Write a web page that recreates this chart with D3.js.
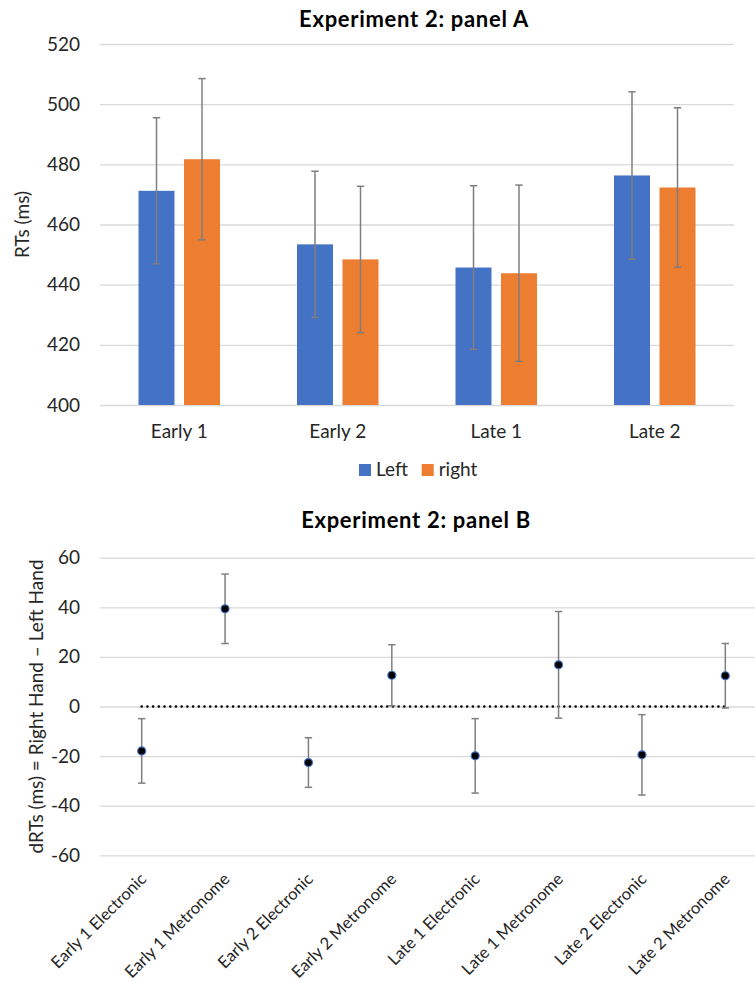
<!DOCTYPE html>
<html>
<head>
<meta charset="utf-8">
<script src="https://cdn.jsdelivr.net/npm/d3@7"></script>
<style>
  html, body { margin: 0; padding: 0; background: #fff; }
  svg { display: block; font-family: Lato, "Open Sans", sans-serif; }
</style>
</head>
<body>
<svg id="chart" width="755" height="984"></svg>
<script>
// ---------- Panel A data ----------
const categoriesA = ["Early 1", "Early 2", "Late 1", "Late 2"];
const seriesNamesA = ["Left", "right"];
const leftMeans  = [471.2, 453.4, 445.7, 476.3];
const leftErr    = [24.3, 24.3, 27.2, 27.8];
const rightMeans = [481.7, 448.4, 443.8, 472.3];
const rightErr   = [26.8, 24.3, 29.3, 26.5];
const ticksA = [400, 420, 440, 460, 480, 500, 520];

// ---------- Panel B data ----------
const categoriesB = ["Early 1 Electronic", "Early 1 Metronome", "Early 2 Electronic", "Early 2 Metronome",
                     "Late 1 Electronic", "Late 1 Metronome", "Late 2 Electronic", "Late 2 Metronome"];
const dMeans = [-17.9, 39.4, -22.6, 12.6, -19.9, 16.8, -19.5, 12.4];
const dErr   = [13.0, 14.0, 10.0, 12.3, 15.0, 21.5, 16.2, 13.0];
const zeroLine = [0, 0, 0, 0, 0, 0, 0, 0];
const ticksB = [-60, -40, -20, 0, 20, 40, 60];

const colors = { Left: "#4472C4", right: "#ED7D31" };
const gridColor = "#D9D9D9";
const errColor = "#7F7F7F";
const textColor = "#262626";

const svg = d3.select("#chart");

// ================= PANEL A =================
const A = { left: 100, right: 734, top: 44, bottom: 405 };
const xA = d3.scaleBand().domain(categoriesA).range([A.left, A.right]);
const xAin = d3.scaleBand().domain(seriesNamesA)
  .range([(xA.bandwidth() - 81.5) / 2, (xA.bandwidth() + 81.5) / 2]).paddingInner(0.209);
const yA = d3.scaleLinear().domain([400, 520]).range([A.bottom, A.top]);

const gA = svg.append("g");
gA.append("text").attr("x", 414).attr("y", 27).attr("text-anchor", "middle")
  .attr("font-size", 22).attr("font-weight", "bold").attr("fill", "#000")
  .attr("letter-spacing", 0.7)
  .text("Experiment 2: panel A");

// gridlines + y axis labels
const axA = d3.axisLeft(yA).tickValues(ticksA).tickSize(-(A.right - A.left)).tickPadding(20).tickFormat(d3.format("d"));
const axAg = gA.append("g").attr("transform", `translate(${A.left},0)`).call(axA);
axAg.select(".domain").remove();
axAg.selectAll(".tick line").attr("stroke", gridColor).attr("stroke-width", 1.3);
axAg.selectAll(".tick text").attr("font-size", 19).attr("fill", textColor).attr("font-family", "Lato");

// x axis labels
const xAxA = d3.axisBottom(xA).tickSize(0).tickPadding(20);
const xAg = gA.append("g").attr("transform", `translate(0,${A.bottom})`).call(xAxA);
xAg.select(".domain").remove();
xAg.selectAll(".tick text").attr("font-size", 19).attr("fill", textColor).attr("font-family", "Lato");

// y title
gA.append("text").attr("transform", `translate(29,${(A.top + A.bottom) / 2}) rotate(-90)`)
  .attr("text-anchor", "middle").attr("font-size", 19).attr("fill", textColor).text("RTs (ms)");

const rowsA = [];
categoriesA.forEach((c, i) => {
  rowsA.push({ cat: c, s: "Left", v: leftMeans[i], e: leftErr[i] });
  rowsA.push({ cat: c, s: "right", v: rightMeans[i], e: rightErr[i] });
});

gA.append("g").selectAll("rect").data(rowsA).join("rect")
  .attr("x", d => xA(d.cat) + xAin(d.s))
  .attr("y", d => yA(d.v))
  .attr("width", xAin.bandwidth())
  .attr("height", d => yA(400) - yA(d.v))
  .attr("fill", d => colors[d.s]);

const errA = gA.append("g").attr("stroke", errColor).attr("stroke-width", 1.5).attr("fill", "none");
rowsA.forEach(d => {
  const cx = xA(d.cat) + xAin(d.s) + xAin.bandwidth() / 2;
  errA.append("line").attr("x1", cx).attr("x2", cx).attr("y1", yA(d.v + d.e)).attr("y2", yA(d.v - d.e));
  [d.v + d.e, d.v - d.e].forEach(v => {
    errA.append("line").attr("x1", cx - 3.7).attr("x2", cx + 3.7).attr("y1", yA(v)).attr("y2", yA(v));
  });
});

// legend
const legA = gA.append("g").attr("transform", "translate(359,464)");
const legItems = [{ s: "Left", x: 0, label: "Left" }, { s: "right", x: 62.7, label: "right" }];
legItems.forEach(it => {
  legA.append("rect").attr("x", it.x).attr("y", 0).attr("width", 12).attr("height", 12).attr("fill", colors[it.s]);
  legA.append("text").attr("x", it.x + 17).attr("y", 12).attr("font-size", 19).attr("fill", textColor).text(it.label);
});

// ================= PANEL B =================
const B = { left: 100, right: 767, top: 557.7, bottom: 855.3 };
const xB = d3.scaleBand().domain(categoriesB).range([B.left, B.right]);
const yB = d3.scaleLinear().domain([-60, 60]).range([B.bottom, B.top]);
const gB = svg.append("g");

gB.append("text").attr("x", 416).attr("y", 528).attr("text-anchor", "middle")
  .attr("font-size", 22).attr("font-weight", "bold").attr("fill", "#000")
  .attr("letter-spacing", 0.7)
  .text("Experiment 2: panel B");

const axB = d3.axisLeft(yB).tickValues(ticksB).tickSize(-(B.right - B.left)).tickPadding(20).tickFormat(d3.format("d"));
const axBg = gB.append("g").attr("transform", `translate(${B.left},0)`).call(axB);
axBg.select(".domain").remove();
axBg.selectAll(".tick line").attr("stroke", gridColor).attr("stroke-width", 1.3);
axBg.selectAll(".tick text").attr("font-size", 19).attr("fill", textColor).attr("font-family", "Lato")
  .text(d => d < 0 ? "-" + Math.abs(d) : d);

// x labels rotated
const xBx = d => xB(d) + xB.bandwidth() / 2;
gB.append("g").selectAll("text").data(categoriesB).join("text")
  .attr("transform", d => `translate(${xBx(d) + 1.5},${876}) rotate(-45)`)
  .attr("text-anchor", "end").attr("dy", "0.35em")
  .attr("font-size", 16.6).attr("fill", textColor).text(d => d);

gB.append("text").attr("transform", `translate(43,${(B.top + B.bottom) / 2}) rotate(-90)`)
  .attr("text-anchor", "middle").attr("font-size", 19).attr("fill", textColor)
  .text("dRTs (ms) = Right Hand \u2013 Left Hand");

// zero dotted line
const line = d3.line().x((d, i) => xBx(categoriesB[i])).y(d => yB(d));
gB.append("path").datum(zeroLine).attr("d", line).attr("fill", "none")
  .attr("stroke", "#000").attr("stroke-width", 2.6).attr("stroke-linecap", "round")
  .attr("stroke-dasharray", "0.01,5.7");

// error bars B
const errB = gB.append("g").attr("stroke", errColor).attr("stroke-width", 1.5).attr("fill", "none");
categoriesB.forEach((c, i) => {
  const cx = xBx(c);
  const hi = dMeans[i] + dErr[i], lo = dMeans[i] - dErr[i];
  errB.append("line").attr("x1", cx).attr("x2", cx).attr("y1", yB(hi)).attr("y2", yB(lo));
  [hi, lo].forEach(v => errB.append("line").attr("x1", cx - 3.7).attr("x2", cx + 3.7).attr("y1", yB(v)).attr("y2", yB(v)));
});

gB.append("g").selectAll("circle").data(dMeans).join("circle")
  .attr("cx", (d, i) => xBx(categoriesB[i])).attr("cy", d => yB(d)).attr("r", 4)
  .attr("fill", "#000").attr("stroke", "#4472C4").attr("stroke-width", 1.2);
</script>
</body>
</html>
